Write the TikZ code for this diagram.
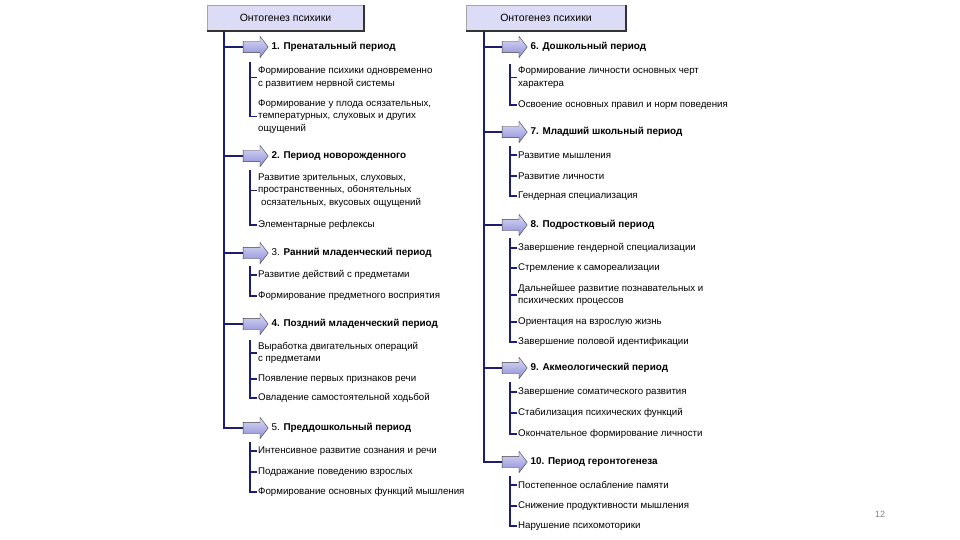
\documentclass[tikz,border=0pt]{standalone}
\usepackage{fontspec}
\setmainfont{Liberation Sans}
\usetikzlibrary{shapes.arrows,positioning}
\definecolor{navy}{HTML}{1E1E6E}
\definecolor{lav}{HTML}{DCDCF6}
\definecolor{lavdk}{HTML}{8A8AD6}
\tikzset{
  hdrbox/.style={draw=gray!70, fill=lav, minimum width=157pt, minimum height=26pt,
    inner sep=0pt, font=\fontsize{10.5}{12}\selectfont},
  stage/.style={single arrow, draw=gray!50!black, top color=lav, bottom color=lavdk,
    minimum height=25pt, inner xsep=0pt, inner ysep=5.5pt, single arrow head extend=5pt,
    single arrow tip angle=105},
  stagetxt/.style={anchor=west, inner sep=1pt, font=\bfseries\fontsize{9.9}{12}\selectfont},
  itemtxt/.style={anchor=west, inner sep=1pt, align=left, font=\fontsize{9.7}{12.5}\selectfont},
  trunk/.style={draw=navy, line width=2pt},
  brk/.style={draw=navy, line width=1.5pt}
}
\begin{document}
\begin{tikzpicture}[x=1pt,y=-1pt]
\useasboundingbox (0,0) rectangle (960,540);
% left column
\node[hdrbox] (h1) at (285.5,18) {Онтогенез психики};
\draw[gray!40!black, line width=1.5pt] (h1.north east) -- (h1.south east) -- (h1.south west);
\coordinate (tl) at (224,31);

\node[stage] (a1) at (253.5,47) {};
\node[stagetxt, right=2pt of a1] (p1) {1. Пренатальный период};
\node[itemtxt] (i1a) at (257,77.5) {Формирование психики одновременно\\с развитием нервной системы};
\node[itemtxt] (i1b) at (257,116.5) {Формирование у плода осязательных,\\температурных, слуховых и других\\ощущений};
\coordinate (b1) at (250,62);

\node[stage] (a2) at (253.5,156) {};
\node[stagetxt, right=2pt of a2] (p2) {2. Период новорожденного};
\node[itemtxt] (i2a) at (257,190.5) {Развитие зрительных, слуховых,\\пространственных, обонятельных\\\hspace{3pt}осязательных, вкусовых ощущений};
\node[itemtxt] (i2b) at (257,225) {Элементарные рефлексы};
\coordinate (b2) at (250,170);

\node[stage] (a3) at (253.5,253) {};
\node[stagetxt, right=2pt of a3] (p3) {{\mdseries 3.} Ранний младенческий период};
\node[itemtxt] (i3a) at (257,275) {Развитие действий с предметами};
\node[itemtxt] (i3b) at (257,296) {Формирование предметного восприятия};
\coordinate (b3) at (250,266);

\node[stage] (a4) at (253.5,324) {};
\node[stagetxt, right=2pt of a4] (p4) {4. Поздний младенческий период};
\node[itemtxt] (i4a) at (257,353) {Выработка двигательных операций\\с предметами};
\node[itemtxt] (i4b) at (257,379) {Появление первых признаков речи};
\node[itemtxt] (i4c) at (257,398) {Овладение самостоятельной ходьбой};
\coordinate (b4) at (250,340);

\node[stage] (a5) at (253.5,428) {};
\node[stagetxt, right=2pt of a5] (p5) {{\mdseries 5.} Преддошкольный период};
\node[itemtxt] (i5a) at (257,451) {Интенсивное развитие сознания и речи};
\node[itemtxt] (i5b) at (257,472) {Подражание поведению взрослых};
\node[itemtxt] (i5c) at (257,492) {Формирование основных функций мышления};
\coordinate (b5) at (250,442);

% right column
\node[hdrbox, minimum width=160pt] (h2) at (546,18) {Онтогенез психики};
\draw[gray!40!black, line width=1.5pt] (h2.north east) -- (h2.south east) -- (h2.south west);
\coordinate (tr) at (484,31);

\node[stage] (a6) at (512.5,47) {};
\node[stagetxt, right=2pt of a6] (p6) {6. Дошкольный период};
\node[itemtxt] (i6a) at (517,77.5) {Формирование личности основных черт\\характера};
\node[itemtxt] (i6b) at (517,105) {Освоение основных правил и норм поведения};
\coordinate (b6) at (510,64);

\node[stage] (a7) at (512.5,132) {};
\node[stagetxt, right=2pt of a7] (p7) {7. Младший школьный период};
\node[itemtxt] (i7a) at (517,155) {Развитие мышления};
\node[itemtxt] (i7b) at (517,176) {Развитие личности};
\node[itemtxt] (i7c) at (517,196) {Гендерная специализация};
\coordinate (b7) at (510,146);

\node[stage] (a8) at (512.5,225) {};
\node[stagetxt, right=2pt of a8] (p8) {8. Подростковый период};
\node[itemtxt] (i8a) at (517,248) {Завершение гендерной специализации};
\node[itemtxt] (i8b) at (517,268) {Стремление к самореализации};
\node[itemtxt] (i8c) at (517,295) {Дальнейшее развитие познавательных и\\психических процессов};
\node[itemtxt] (i8d) at (517,322) {Ориентация на взрослую жизнь};
\node[itemtxt] (i8e) at (517,342) {Завершение половой идентификации};
\coordinate (b8) at (510,238);

\node[stage] (a9) at (512.5,368) {};
\node[stagetxt, right=2pt of a9] (p9) {9. Акмеологический период};
\node[itemtxt] (i9a) at (517,392) {Завершение соматического развития};
\node[itemtxt] (i9b) at (517,413) {Стабилизация психических функций};
\node[itemtxt] (i9c) at (517,434) {Окончательное формирование личности};
\coordinate (b9) at (510,382);

\node[stage] (a10) at (512.5,462) {};
\node[stagetxt, right=2pt of a10] (p10) {10. Период геронтогенеза};
\node[itemtxt] (i10a) at (517,485) {Постепенное ослабление памяти};
\node[itemtxt] (i10b) at (517,506) {Снижение продуктивности мышления};
\node[itemtxt] (i10c) at (517,526) {Нарушение психомоторики};
\coordinate (b10) at (510,476);

% trunks
\draw[trunk] (tl) |- (a5.west);
\foreach \a in {a1,a2,a3,a4}
  \draw[trunk] (tl |- \a.west) -- (\a.west);
\draw[trunk] (tr) |- (a10.west);
\foreach \a in {a6,a7,a8,a9}
  \draw[trunk] (tr |- \a.west) -- (\a.west);

% item brackets
\draw[brk] (b1) |- (i1b.west);
\draw[brk] (b1 |- i1a.west) -- (i1a.west);
\draw[brk] (b2) |- (i2b.west);
\draw[brk] (b2 |- i2a.west) -- (i2a.west);
\draw[brk] (b3) |- (i3b.west);
\draw[brk] (b3 |- i3a.west) -- (i3a.west);
\draw[brk] (b4) |- (i4c.west);
\foreach \i in {i4a,i4b}
  \draw[brk] (b4 |- \i.west) -- (\i.west);
\draw[brk] (b5) |- (i5c.west);
\foreach \i in {i5a,i5b}
  \draw[brk] (b5 |- \i.west) -- (\i.west);
\draw[brk] (b6) |- (i6b.west);
\draw[brk] (b6 |- i6a.west) -- (i6a.west);
\draw[brk] (b7) |- (i7c.west);
\foreach \i in {i7a,i7b}
  \draw[brk] (b7 |- \i.west) -- (\i.west);
\draw[brk] (b8) |- (i8e.west);
\foreach \i in {i8a,i8b,i8c,i8d}
  \draw[brk] (b8 |- \i.west) -- (\i.west);
\draw[brk] (b9) |- (i9c.west);
\foreach \i in {i9a,i9b}
  \draw[brk] (b9 |- \i.west) -- (\i.west);
\draw[brk] (b10) |- (i10c.west);
\foreach \i in {i10a,i10b}
  \draw[brk] (b10 |- \i.west) -- (\i.west);

\node[text=gray, font=\fontsize{9}{10}\selectfont] (pg) at (880,514) {12};
\end{tikzpicture}
\end{document}
